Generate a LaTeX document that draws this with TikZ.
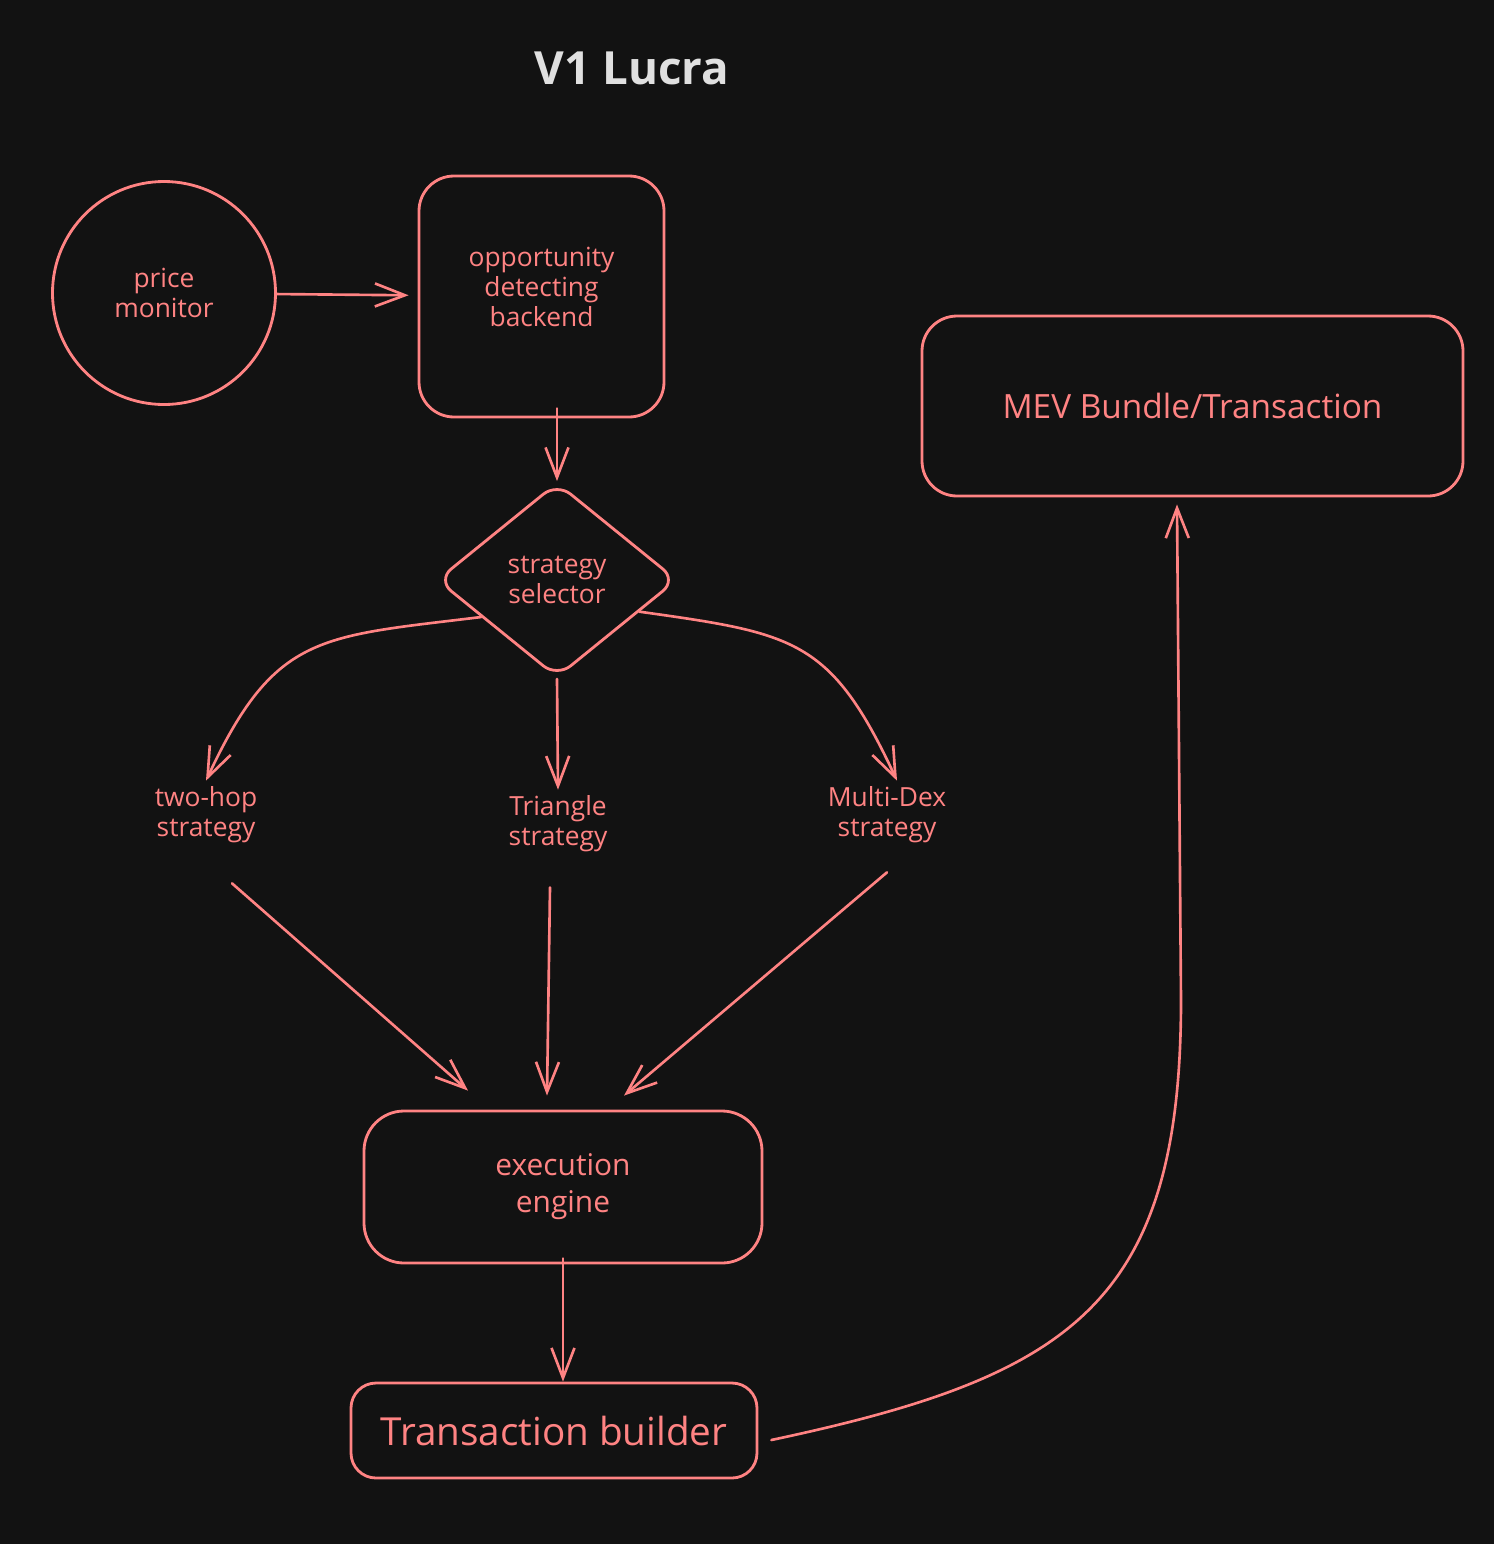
\documentclass[tikz,border=0pt]{standalone}
\usepackage{fontspec}
\setmainfont{Open Sans}
\usepackage{tikz}
\usetikzlibrary{arrows.meta, shapes.geometric}

\definecolor{board}{HTML}{121212}
\definecolor{pen}{HTML}{FF8383}
\definecolor{titlegray}{HTML}{E0E0E0}

\begin{document}
\begin{tikzpicture}[
    box/.style={draw=pen, line width=1.6pt, rounded corners=0.7cm, text=pen, align=center, inner sep=0pt},
    label/.style={text=pen, align=center, font=\fontsize{15}{17}\selectfont},
    flow/.style={draw=pen, line width=1.5pt, line cap=round, -{Straight Barb[length=0.6cm, width=0.46cm, line width=1.5pt]}}
]
    \fill[board] (0, 0) rectangle (29.88, -30.88);
    \useasboundingbox (0, 0) rectangle (29.88, -30.88);

    \node[text=titlegray, font=\fontsize{26}{30}\selectfont\bfseries] (title) at (12.64, -1.36) {V1 Lucra};

    \node[box, circle, minimum size=4.46cm, font=\fontsize{15}{17}\selectfont] (monitor) at (3.28, -5.86) {price\\monitor};
    \node[box, minimum width=4.9cm, minimum height=4.82cm, font=\fontsize{15}{17}\selectfont] (opp) at (10.83, -5.93) {opportunity\\detecting\\backend\\[-0.2cm]};
    \node[box, diamond, rounded corners=0.35cm, minimum width=4.8cm, minimum height=3.9cm, font=\fontsize{15}{17}\selectfont] (selector) at (11.14, -11.6) {strategy\\selector};

    \node[label] (twohop) at (4.12, -16.30) {two-hop\\strategy};
    \node[label] (tri) at (11.16, -16.48) {Triangle\\strategy};
    \node[label] (multidex) at (17.74, -16.30) {Multi-Dex\\strategy};

    \node[box, rounded corners=0.8cm, minimum width=7.96cm, minimum height=3.04cm, font=\fontsize{17}{21}\selectfont] (exec) at (11.26, -23.74) {execution\\engine};
    \node[box, rounded corners=0.5cm, minimum width=8.12cm, minimum height=1.9cm, font=\fontsize{22}{26}\selectfont] (tb) at (11.08, -28.61) {Transaction builder};
    \node[box, minimum width=10.82cm, minimum height=3.6cm, font=\fontsize{19}{23}\selectfont] (mev) at (23.85, -8.12) {MEV Bundle/Transaction};

    \draw[flow, shorten >=0.18cm] (monitor) -- (opp);
    \draw[flow] ([yshift=0.2cm]opp.south -| selector) -- (selector.north);

    \draw[flow] (selector.206) to[out=187, in=65, looseness=1.3] (twohop.north);
    \draw[flow] (selector.south) -- (tri.north);
    \draw[flow] (selector.339) to[out=-8, in=115, looseness=1.3] ([xshift=0.2cm]multidex.north);

    \draw[flow] ([xshift=0.52cm, yshift=-0.68cm]twohop.south) -- ([xshift=-1.9cm, yshift=0.38cm]exec.north);
    \draw[flow] ([xshift=-0.16cm, yshift=-0.58cm]tri.south) -- ([xshift=-0.32cm, yshift=0.28cm]exec.north);
    \draw[flow] ([yshift=-0.46cm]multidex.south) -- ([xshift=1.22cm, yshift=0.28cm]exec.north);

    \draw[flow] ([yshift=0.12cm]exec.south) -- (exec.south |- tb.north);

    \coordinate (bend) at (23.62, -20.0);
    \draw[flow] ([xshift=0.26cm, yshift=-0.19cm]tb.east) to[out=12, in=-90, looseness=1.3] (bend) -- ([xshift=-0.31cm, yshift=-0.14cm]mev.south);
\end{tikzpicture}
\end{document}
